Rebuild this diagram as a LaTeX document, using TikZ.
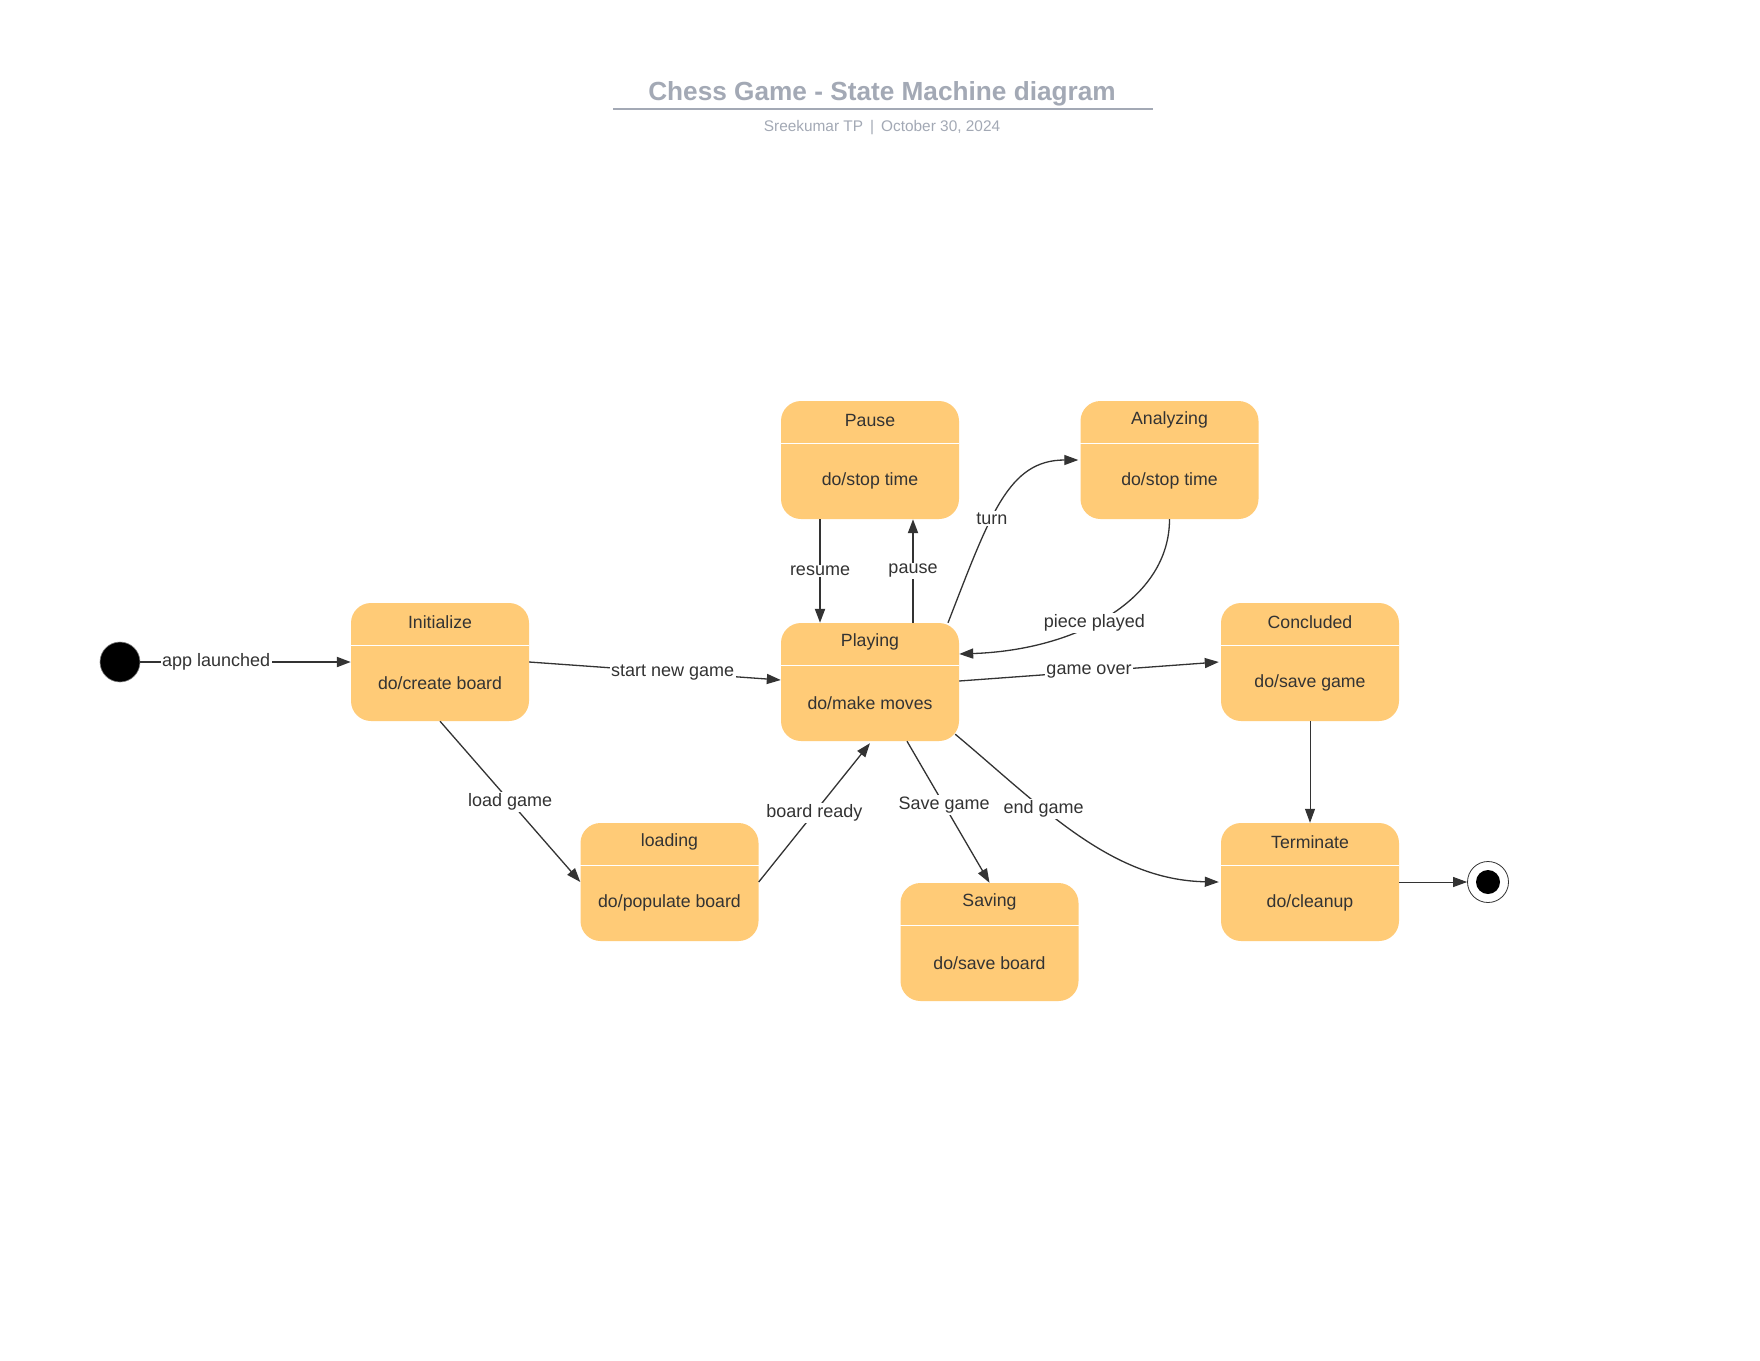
\documentclass[tikz,border=0pt]{standalone}
\usepackage{fontspec}
\setmainfont{Liberation Sans}
\usetikzlibrary{arrows.meta,calc}
\definecolor{statefill}{HTML}{FFCB77}
\definecolor{ink}{HTML}{333333}
\definecolor{titlegray}{HTML}{A3A9B5}
\tikzset{
  statebox/.style={fill=statefill, draw=none, rounded corners=20pt, minimum width=178pt, minimum height=118pt, inner sep=0pt},
  divider/.style={draw=white, line width=1.3pt},
  stxt/.style={text=ink, font=\fontsize{17.7}{20}\selectfont, inner sep=0pt},
  edge/.style={draw=ink, line width=1.3pt, -{Triangle[length=14pt,width=10pt]}},
  thick edge/.style={edge, line width=2pt},
  lbl/.style={text=ink, font=\fontsize{18}{20}\selectfont, fill=white, inner sep=1.5pt},
}
\newcommand{\umlstate}[5]{%
  \node[statebox] (#1) at (#2,#3) {};
  \draw[divider] ($(#1.north west)+(0,43)$) -- ($(#1.north east)+(0,43)$);
  \node[stxt] (#1-title) at ($(#1.north)+(0,19.5)$) {#4};
  \node[stxt] (#1-body) at ($(#1.north)+(0,80.5)$) {#5};
}
\begin{document}
\begin{tikzpicture}[x=1pt,y=-1pt]
\useasboundingbox[fill=white] (0,0) rectangle (1760,1360);
% title
\node[text=titlegray, font=\bfseries\fontsize{26.2}{30}\selectfont] (title) at (882,93.5) {Chess Game - State Machine diagram};
\coordinate (ulA) at (613,109);
\coordinate (ulB) at (1153,109);
\draw[titlegray, line width=1.6pt] (ulA) -- (ulB);
\node[text=titlegray, font=\fontsize{15.4}{18}\selectfont] (subtitle) at (882,127.5) {Sreekumar TP\hspace{7pt}|\hspace{7pt}October 30, 2024};
% states
\umlstate{Initialize}{440}{662}{Initialize}{do/create board}
\umlstate{Pause}{870}{460}{Pause}{do/stop time}
\umlstate{Analyzing}{1169.5}{460}{Analyzing}{do/stop time}
\umlstate{Playing}{870}{682}{Playing}{do/make moves}
\umlstate{Concluded}{1310}{662}{Concluded}{do/save game}
\umlstate{loading}{669.5}{882}{loading}{do/populate board}
\umlstate{Saving}{989.5}{942}{Saving}{do/save board}
\umlstate{Terminate}{1310}{882}{Terminate}{do/cleanup}
% pseudo states
\node[circle, fill=black, draw=gray, line width=0.6pt, minimum size=40pt, inner sep=0pt] (init) at (120,662) {};
\node[circle, draw=ink, line width=0.8pt, minimum size=41pt, inner sep=0pt] (final) at (1488,882) {};
\fill[black] (final.center) circle (12);
% transitions
\draw[thick edge] (init) -- (Initialize.west) node[lbl, pos=0.36] {app launched};
\draw[edge] (Initialize.east) -- ([yshift=2pt]Playing.west) node[lbl, pos=0.57] {start new game};
\draw[edge] (Initialize.south) -- (loading.west) node[lbl, pos=0.5] {load game};
\draw[edge] (loading.east) -- ([yshift=-2pt]Playing.south) node[lbl, pos=0.5] {board ready};
\draw[thick edge] ([xshift=-50pt]Pause.south) -- ([xshift=-50pt]Playing.north) node[lbl, pos=0.5] {resume};
\draw[thick edge] ([xshift=43pt]Playing.north) -- ([xshift=43pt]Pause.south) node[lbl, pos=0.5] {pause};
\draw[edge] ([xshift=78pt]Playing.north) .. controls +(42,-108) and +(-70,0) .. ([xshift=-2pt]Analyzing.west) node[lbl, pos=0.4] {turn};
\draw[edge] (Analyzing.south) .. controls +(0,80) and +(118,-4) .. ([yshift=28pt]Playing.east) node[lbl, pos=0.56] {piece played};
\draw[edge] ([yshift=1pt]Playing.east) -- ([xshift=-2pt]Concluded.west) node[lbl, pos=0.5] {game over};
\draw[edge] ([xshift=37pt]Playing.south) -- (Saving.north) node[lbl, pos=0.45] {Save game};
\draw[edge] ([xshift=-4pt,yshift=7pt]Playing.south east) .. controls +(85,71) and +(-109,-2) .. ([xshift=-2pt]Terminate.west) node[lbl, pos=0.36] {end game};
\draw[edge, line width=1pt] (Concluded.south) -- (Terminate.north);
\draw[edge, line width=1pt] (Terminate.east) -- (final.west);
\end{tikzpicture}
\end{document}
